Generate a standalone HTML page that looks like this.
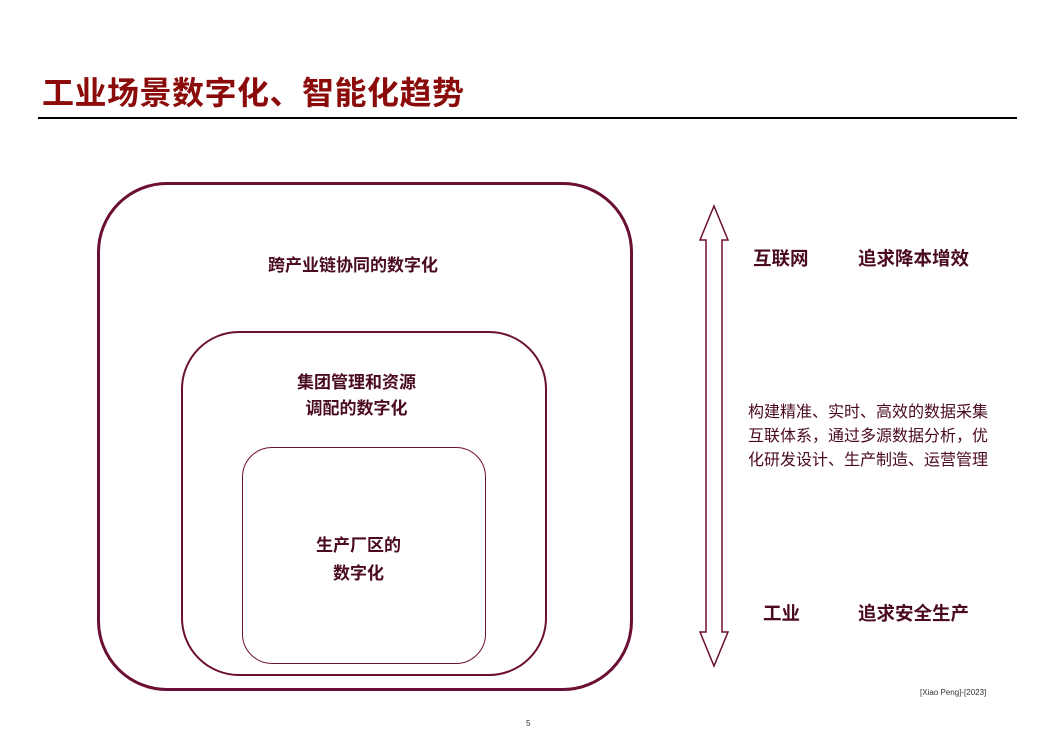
<!DOCTYPE html>
<html><head><meta charset="utf-8"><style>
body{margin:0;width:1058px;height:733px;background:#fff;position:relative;overflow:hidden;font-family:"Liberation Sans","Noto Sans CJK SC",sans-serif;}
.a{position:absolute;white-space:nowrap;}
.t{left:42px;top:68px;font-size:32px;font-weight:bold;color:#8b0a0a;letter-spacing:0.5px;}
.b{font-weight:bold;font-size:17px;color:#4a0a22;}
.c{font-weight:bold;font-size:18.5px;color:#4a0a22;}
.box{position:absolute;border-style:solid;border-color:#6b0f35;box-sizing:border-box;}
</style></head><body>
<div class="a t">工业场景数字化、智能化趋势</div>
<div class="a" style="left:38px;top:117px;width:979px;height:2px;background:#000"></div>
<div class="box" style="left:97px;top:182px;width:536px;height:509px;border-width:3px;border-radius:70px"></div>
<div class="box" style="left:181px;top:331px;width:366px;height:345px;border-width:2px;border-radius:58px"></div>
<div class="box" style="left:242px;top:447px;width:244px;height:217px;border-width:1.2px;border-radius:30px"></div>
<div class="a b" style="left:268px;top:251px">跨产业链协同的数字化</div>
<div class="a b" style="left:297px;top:370px;line-height:26px;text-align:center">集团管理和资源<br>调配的数字化</div>
<div class="a b" style="left:316px;top:532px;line-height:28px;text-align:center">生产厂区的<br>数字化</div>
<svg class="a" style="left:0;top:0" width="1058" height="733">
<path d="M714 206 L728 240 L722 240 L722 632 L728 632 L714 666 L700 632 L706 632 L706 240 L700 240 Z" fill="none" stroke="#6b0f35" stroke-width="1.5"/>
</svg>
<div class="a c" style="left:753px;top:245px">互联网</div>
<div class="a c" style="left:858px;top:245px">追求降本增效</div>
<div class="a c" style="left:763px;top:600px">工业</div>
<div class="a c" style="left:858px;top:600px">追求安全生产</div>
<div class="a" style="left:748px;top:401px;font-size:16px;line-height:24px;color:#4a0a22">构建精准、实时、高效的数据采集<br>互联体系，通过多源数据分析，优<br>化研发设计、生产制造、运营管理</div>
<div class="a" style="left:920px;top:688px;font-size:8px;color:#333">[Xiao Peng]-[2023]</div>
<div class="a" style="left:526px;top:719px;font-size:8px;color:#333">5</div>
</body></html>
